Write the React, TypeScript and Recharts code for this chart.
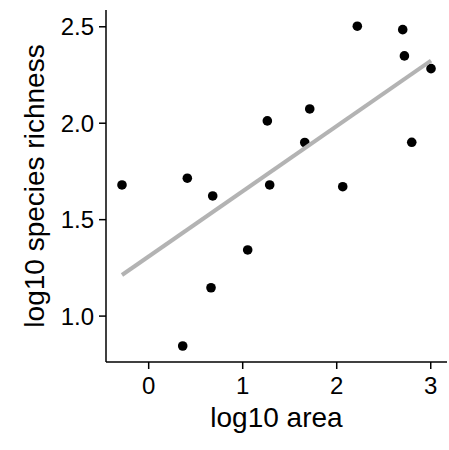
import React from 'react';
import { ScatterChart, Scatter, XAxis, YAxis, Label } from 'recharts';

// log10 area / log10 species richness, one point per island
const areaLog = [-0.284, 0.362, 0.411, 0.681, 0.663, 1.053, 1.262, 1.287, 1.713, 1.66, 2.064, 2.219, 2.702, 2.72, 2.798, 3.003];
const richnessLog = [1.68, 0.845, 1.715, 1.623, 1.147, 1.343, 2.012, 1.68, 2.074, 1.9, 1.671, 2.503, 2.485, 2.349, 1.901, 2.283];

// ends of the fitted line
const fitX = [-0.284, 3.003];
const fitY = [1.213, 2.325];

const xTicks = [0, 1, 2, 3];
const yTicks = [1.0, 1.5, 2.0, 2.5];

const points = areaLog.map((x, i) => ({ x, y: richnessLog[i] }));
const fitLine = fitX.map((x, i) => ({ x, y: fitY[i] }));

const FONT = '"Liberation Sans", Arial, sans-serif';
const axisLine = { stroke: '#000', strokeWidth: 1.5 };
const tickStyle = { fill: '#000', fontSize: 24, fontFamily: FONT };

const Dot = (props: any) => <circle cx={props.cx} cy={props.cy} r={4.8} fill="#000" />;
const NoDot = () => <g />;

export default function App() {
  return (
    <div style={{ position: 'absolute', left: 0, top: 0, background: '#fff' }}>
      <ScatterChart width={449} height={450} margin={{ top: 10, right: 2, bottom: 0, left: 0 }}>
        <XAxis
          type="number"
          dataKey="x"
          domain={[-0.454, 3.173]}
          allowDataOverflow
          ticks={xTicks}
          tickFormatter={(v) => String(v)}
          height={88}
          axisLine={axisLine}
          tickLine={axisLine}
          tickSize={7}
          tickMargin={8}
          tick={tickStyle}
        >
          <Label
            content={(p: any) => {
              const vb = p.viewBox;
              return (
                <text x={vb.x + vb.width / 2} y={vb.y + 65} textAnchor="middle" fontSize={28} fontFamily={FONT} fill="#000">
                  log10 area
                </text>
              );
            }}
          />
        </XAxis>
        <YAxis
          type="number"
          dataKey="y"
          domain={[0.762, 2.587]}
          allowDataOverflow
          ticks={yTicks}
          tickFormatter={(v) => v.toFixed(1)}
          width={106}
          axisLine={axisLine}
          tickLine={axisLine}
          tickSize={7}
          tickMargin={5}
          tick={tickStyle}
        >
          <Label
            content={(p: any) => {
              const vb = p.viewBox;
              const cx = 44;
              const cy = vb.y + vb.height / 2;
              return (
                <text x={cx} y={cy} transform={`rotate(-90 ${cx} ${cy})`} textAnchor="middle" fontSize={28} fontFamily={FONT} fill="#000">
                  log10 species richness
                </text>
              );
            }}
          />
        </YAxis>
        <Scatter data={points} fill="#000" shape={Dot} isAnimationActive={false} />
        <Scatter
          data={fitLine}
          line={{ stroke: '#b3b3b3', strokeWidth: 4 }}
          lineType="joint"
          shape={NoDot}
          isAnimationActive={false}
        />
      </ScatterChart>
    </div>
  );
}
